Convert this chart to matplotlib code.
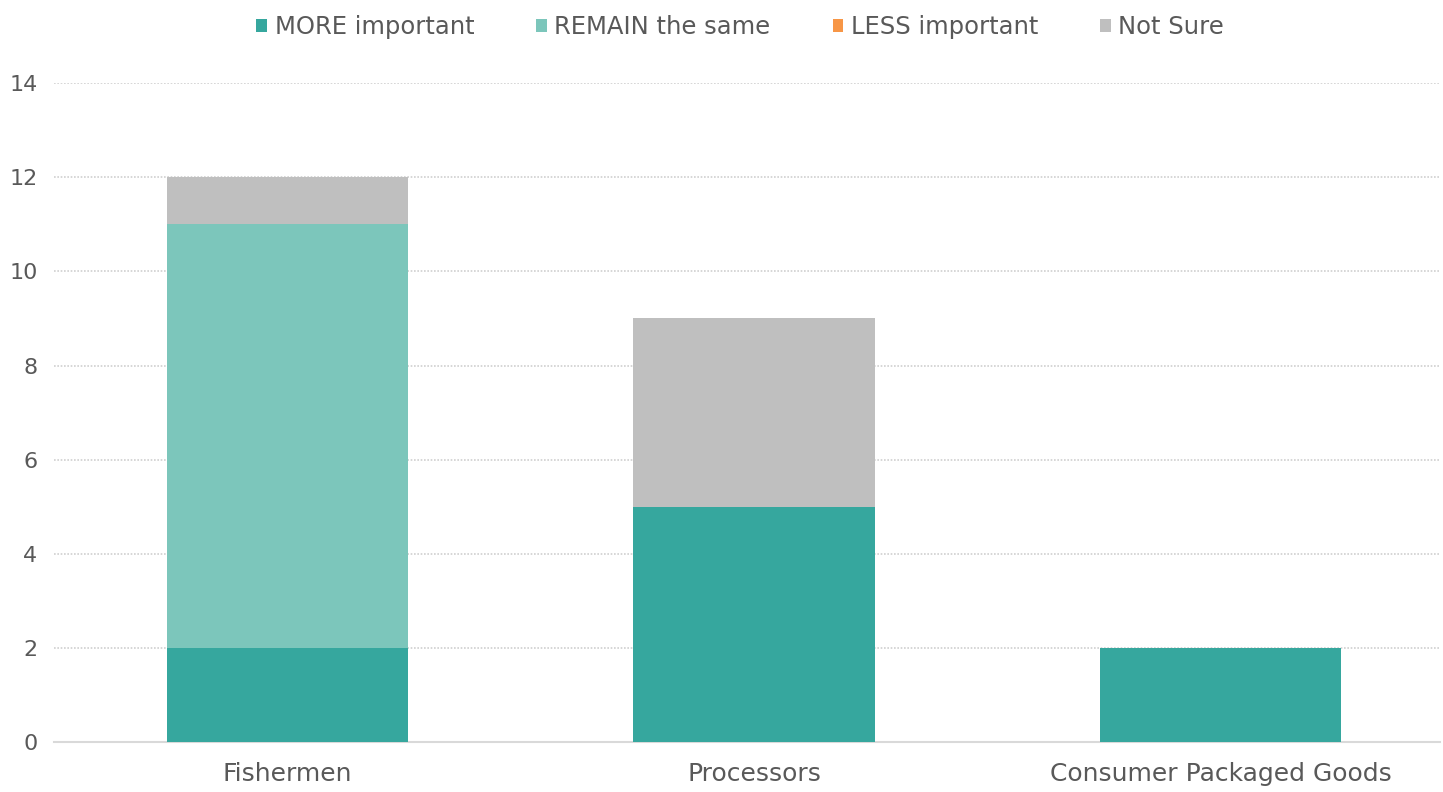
import numpy as np
import matplotlib
matplotlib.use('Agg')
import matplotlib.pyplot as plt

# Data
categories = ['Fishermen', 'Processors', 'Consumer Packaged Goods']
series_names = ['MORE important', 'REMAIN the same', 'LESS important', 'Not Sure']
more_important = [2, 5, 2]
remain_same = [9, 0, 0]
less_important = [0, 0, 0]
not_sure = [1, 4, 0]

colors = ['#36A79E', '#7CC6BB', '#F79646', '#BFBFBF']
text_color = '#595959'

plt.rcParams['font.family'] = ['DejaVu Sans']

fig = plt.figure(figsize=(14.43, 7.92), dpi=100)
ax = fig.add_axes([0.0375, 0.063, 0.9605, 0.832])

x = np.arange(len(categories))
bottom = np.zeros(len(categories))
for name, vals, col in zip(series_names,
                           [more_important, remain_same, less_important, not_sure],
                           colors):
    vals = np.array(vals, dtype=float)
    ax.bar(x, vals, width=0.517, bottom=bottom, color=col, label=name, zorder=3)
    bottom += vals

ax.set_xlim(-0.5, 2.47)
ax.set_ylim(0, 14)
ax.set_yticks(range(0, 15, 2))
ax.set_xticks(x)
ax.set_xticklabels(categories, fontsize=18)

ax.grid(axis='y', color='#D0D0D0', linestyle=(0, (1, 1)), linewidth=1.2, zorder=0)
ax.set_axisbelow(True)
for side in ['top', 'right', 'left']:
    ax.spines[side].set_visible(False)
ax.spines['bottom'].set_color('#D9D9D9')
ax.spines['bottom'].set_linewidth(1.5)
ax.tick_params(axis='both', length=0, colors=text_color)
ax.tick_params(axis='y', labelsize=16, pad=12)
ax.tick_params(axis='x', pad=14)

leg = fig.legend(*ax.get_legend_handles_labels(), loc='center',
                 bbox_to_anchor=(0.513, 0.966), ncol=4, frameon=False,
                 fontsize=17.5, handlelength=0.45, handleheight=0.45, handletextpad=0.3,
                 columnspacing=2.55)
for t in leg.get_texts():
    t.set_color(text_color)

fig.savefig('out.png', dpi=100)
